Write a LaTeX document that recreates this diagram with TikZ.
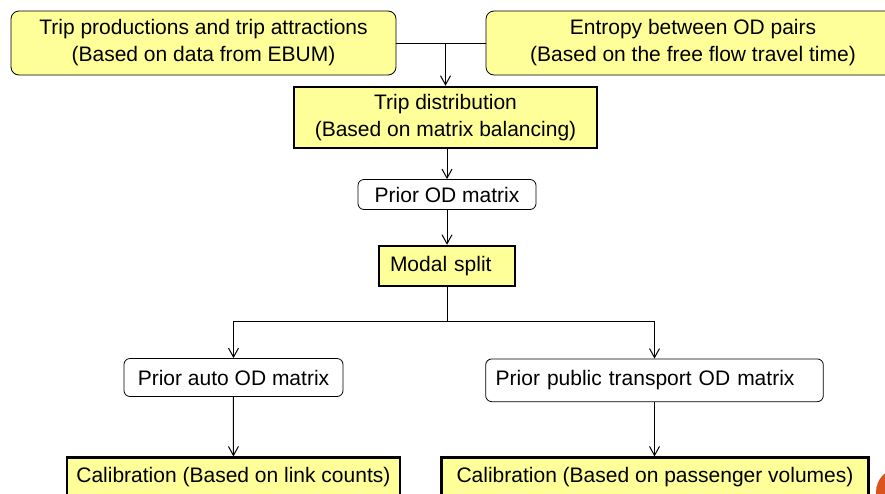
\documentclass[tikz,border=0pt]{standalone}
\usepackage{fontspec}
\setmainfont{Liberation Sans}
\usepackage{xcolor}
\usetikzlibrary{arrows.meta,positioning}
\definecolor{boxyellow}{HTML}{FFFF99}
\definecolor{dotorange}{HTML}{D9541E}

\begin{document}
\begin{tikzpicture}[x=1pt,y=-1pt,font=\fontsize{21}{27}\selectfont,>={Straight Barb[length=9pt,width=10pt]},
  src/.style={draw,fill=boxyellow,rounded corners=8pt,line width=0.8pt,align=center,inner sep=0pt},
  stage/.style={draw,fill=boxyellow,line width=2.5pt,align=center,inner sep=0pt},
  mat/.style={draw,fill=white,rounded corners=6pt,line width=0.8pt,align=center,inner sep=0pt},
  flow/.style={->,line width=1pt}]
\clip (0,0) rectangle (885,493);
\fill[white] (0,0) rectangle (885,493);
% inputs
\node[src,minimum width=385pt,minimum height=64pt] (trips) at (203.5,43) {Trip productions and trip attractions\\(Based on data from EBUM)};
\node[src,minimum width=414pt,minimum height=64pt] (entropy) at (693,43) {Entropy between OD pairs\\(Based on the free flow travel time)};
% main chain
\node[stage,minimum width=303pt,minimum height=61pt] (dist) at (445.5,117.5) {Trip distribution\\(Based on matrix balancing)};
\node[mat,minimum width=178pt,minimum height=30pt] (prior) at (447,194.5) {Prior OD matrix};
\node[stage,minimum height=40pt,text width=114pt,align=left,inner xsep=11pt] (modal) at (447,266) {Modal split};
\node[mat,minimum width=219pt,minimum height=38pt] (auto) at (233.5,377.5) {Prior auto OD matrix};
\node[mat,minimum height=42.7pt,text width=317.6pt,align=left,inner xsep=10pt] (pt) at (654.5,380.3) {Prior public transport OD matrix};
\node[stage,minimum width=333.3pt,minimum height=38pt] (calauto) at (233.4,476.7) {Calibration (Based on link counts)};
\node[stage,minimum width=426.6pt,minimum height=38pt] (calpt) at (655,476.7) {Calibration (Based on passenger volumes)};
\coordinate (split) at (447,321.7);
% connectors
\draw[line width=1pt] (trips.east) -- (entropy.west);
\draw[flow] (trips.east -| dist.north) -- (dist.north);
\draw[flow] (prior.north |- dist.south) -- (prior.north);
\draw[flow] (prior) -- (modal);
\draw[line width=1pt] (modal.south) -- (split);
\draw[flow] (split) -| (auto.north);
\draw[flow] (split) -| (pt.north);
\draw[flow] (auto) -- (calauto);
\draw[flow] (pt.south) -- (pt.south |- calpt.north);
\fill[dotorange] (900,492) circle (24pt);
\end{tikzpicture}
\end{document}
